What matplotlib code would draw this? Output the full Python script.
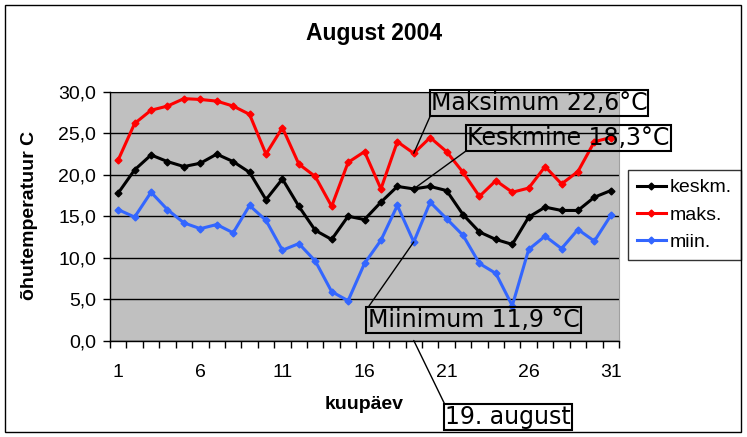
import matplotlib
matplotlib.use("Agg")
import matplotlib.pyplot as plt
from matplotlib.patches import Rectangle
from matplotlib.ticker import FixedLocator

plt.rcParams["font.family"] = "Liberation Sans"

days = list(range(1, 32))
keskm = [17.8, 20.6, 22.4, 21.6, 21.0, 21.4, 22.5, 21.6, 20.3, 17.0,
         19.5, 16.2, 13.3, 12.2, 15.0, 14.6, 16.7, 18.6, 18.3, 18.6,
         18.1, 15.2, 13.1, 12.2, 11.6, 14.9, 16.1, 15.7, 15.7, 17.3, 18.1]
maks = [21.8, 26.2, 27.8, 28.3, 29.2, 29.1, 28.9, 28.3, 27.3, 22.5,
        25.7, 21.3, 19.8, 16.2, 21.5, 22.8, 18.3, 24.0, 22.6, 24.5,
        22.8, 20.3, 17.4, 19.3, 17.9, 18.4, 21.0, 18.9, 20.4, 24.0, 24.5]
miin = [15.8, 14.9, 17.9, 15.8, 14.2, 13.5, 14.0, 13.0, 16.3, 14.5,
        10.9, 11.7, 9.6, 5.9, 4.8, 9.3, 12.1, 16.3, 11.9, 16.7,
        14.7, 12.7, 9.3, 8.1, 4.2, 11.0, 12.6, 11.1, 13.4, 12.0, 15.1]
xlabels = ["1", "6", "11", "16", "21", "26", "31"]
ylabels = ["0,0", "5,0", "10,0", "15,0", "20,0", "25,0", "30,0"]

W, H = 747, 437
fig = plt.figure(figsize=(W / 100, H / 100), dpi=100)
fig.patch.set_facecolor("white")

# outer chart frame
fig.add_artist(Rectangle((5 / W, (H - 432) / H), 736 / W, 427 / H,
                         transform=fig.transFigure, fill=False,
                         edgecolor="black", linewidth=1))

ax = fig.add_axes([110 / W, (H - 340.5) / H, 509 / W, 248.5 / H])
ax.set_facecolor("#C0C0C0")

ax.plot(days, keskm, color="black", lw=2.2, marker="D", ms=3.5, label="keskm.", zorder=3)
ax.plot(days, maks, color="#FF0000", lw=2.2, marker="D", ms=3.5, label="maks.", zorder=3)
ax.plot(days, miin, color="#3366FF", lw=2.2, marker="D", ms=3.5, label="miin.", zorder=3)

ax.set_xlim(0.5, 31.5)
ax.set_ylim(0, 30)

ax.set_yticks(range(0, 31, 5))
ax.set_yticklabels(ylabels)
ax.yaxis.grid(True, color="black", lw=1)
ax.set_axisbelow(True)

ax.set_xticks([int(s) for s in xlabels])
ax.set_xticklabels(xlabels)
ax.xaxis.set_minor_locator(FixedLocator([d + 0.5 for d in range(0, 32)]))
ax.tick_params(axis="x", which="major", length=0, pad=17, labelsize=14)
ax.tick_params(axis="x", which="minor", length=5, width=1, direction="out")
ax.tick_params(axis="y", length=5, width=1, pad=5, labelsize=14)

ax.spines["top"].set_color("black")
ax.spines["right"].set_color("#A0A0A0")
for s in ["left", "bottom"]:
    ax.spines[s].set_color("black")
    ax.spines[s].set_linewidth(1)

fig.text(374 / W, (H - 40) / H, "August 2004", ha="center", va="baseline",
         fontsize=16.5, fontweight="bold")
fig.text(364 / W, (H - 409) / H, "kuupäev", ha="center", va="baseline",
         fontsize=14, fontweight="bold")
fig.text(30 / W, (H - 215) / H, "õhutemperatuur C", ha="center", va="center",
         rotation=90, fontsize=14, fontweight="bold")

leg = ax.legend(loc="upper left", bbox_to_anchor=(628 / W, (H - 170) / H),
                bbox_transform=fig.transFigure, fontsize=14, frameon=True,
                fancybox=False, handlelength=1.5, handletextpad=0.2,
                borderpad=0.45, labelspacing=0.5, borderaxespad=0)
leg.get_frame().set_edgecolor("black")
leg.get_frame().set_linewidth(1)

box = dict(boxstyle="square,pad=0.05", facecolor="none", edgecolor="black", lw=1.5)
notes = [
    ("Maksimum 22,6°C", (19, 22.6), (539, H - 103), (0, 0)),
    ("Keskmine 18,3°C", (19, 18.3), (568.5, H - 138), (0, 0)),
    ("Miinimum 11,9 °C", (19, 11.9), (473.5, H - 320), (0, 1)),
    ("19. august", (19, 0), (508, H - 417), (0, 1)),
]
for txt, xy, xyt, rel in notes:
    ax.annotate(txt, xy=xy, xycoords="data", xytext=xyt,
                textcoords="figure pixels", ha="center", va="center",
                fontsize=17, family="DejaVu Sans", bbox=box,
                annotation_clip=False, zorder=5,
                arrowprops=dict(arrowstyle="-", color="black", lw=1,
                                relpos=rel, shrinkA=0, shrinkB=0))

fig.savefig("out.png", dpi=100)
